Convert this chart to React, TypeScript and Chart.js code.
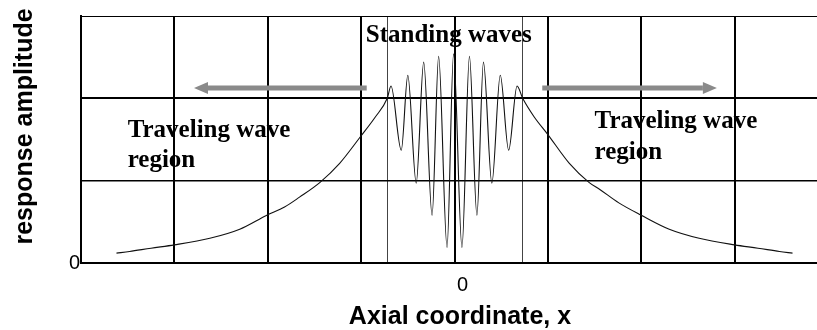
import React, { useEffect, useRef } from 'react';
import { Chart, registerables } from 'chart.js';

Chart.register(...registerables);

// ---- data (axial coordinate in grid units, response amplitude in grid units) ----
const leftX = [-3.62, -3.48, -3.25, -3.0, -2.62, -2.3, -2.01, -1.82, -1.66, -1.44, -1.23, -1.01, -0.85, -0.72];
const leftY = [0.12, 0.14, 0.18, 0.22, 0.3, 0.41, 0.58, 0.68, 0.8, 0.98, 1.21, 1.53, 1.77, 2.0];

const waveX = [-0.68, -0.57, -0.5, -0.41, -0.33, -0.24, -0.17, -0.08, -0.01, 0.08, 0.16, 0.24, 0.31, 0.4, 0.49, 0.58, 0.67];
const waveY = [2.15, 1.37, 2.28, 0.97, 2.44, 0.58, 2.51, 0.19, 2.54, 0.19, 2.51, 0.58, 2.44, 0.97, 2.28, 1.37, 2.15];

const rightX = [0.73, 0.85, 1.0, 1.23, 1.44, 1.56, 1.76, 2.0, 2.3, 2.62, 3.0, 3.25, 3.48, 3.62];
const rightY = [2.0, 1.78, 1.56, 1.21, 0.98, 0.89, 0.73, 0.58, 0.41, 0.3, 0.22, 0.18, 0.14, 0.12];

const xRange = [-4, 4];
const yRange = [0, 3];
const regionEdges = [-0.72, 0.73];
const xTickLabels = ['0'];
const yTickLabels = ['0'];

const xTitle = 'Axial coordinate, x';
const yTitle = 'response amplitude';
const standingLabel = 'Standing waves';
const travelingLabel = ['Traveling wave', 'region'];

const points = [
  ...leftX.map((x, i) => ({ x, y: leftY[i] })),
  ...waveX.map((x, i) => ({ x, y: waveY[i] })),
  ...rightX.map((x, i) => ({ x, y: rightY[i] })),
];

const annotationPlugin = {
  id: 'annotations',
  afterDraw(chart: any) {
    const { ctx, chartArea } = chart;
    const xs = chart.scales.x;
    const ys = chart.scales.y;
    const px = (v: number) => xs.getPixelForValue(v);
    const py = (v: number) => ys.getPixelForValue(v);
    ctx.save();

    // arrows
    const arrow = (from: number, to: number, yv: number) => {
      const x0 = px(from);
      const x1 = px(to);
      const yy = py(yv);
      const dir = Math.sign(x1 - x0);
      const head = 14;
      ctx.strokeStyle = '#8a8a8a';
      ctx.fillStyle = '#8a8a8a';
      ctx.lineWidth = 5;
      ctx.beginPath();
      ctx.moveTo(x0, yy);
      ctx.lineTo(x1 - dir * head, yy);
      ctx.stroke();
      ctx.beginPath();
      ctx.moveTo(x1, yy);
      ctx.lineTo(x1 - dir * head, yy - 6);
      ctx.lineTo(x1 - dir * head, yy + 6);
      ctx.closePath();
      ctx.fill();
    };
    arrow(-0.94, -2.79, 2.125);
    arrow(0.94, 2.81, 2.125);

    // region texts
    ctx.fillStyle = '#000';
    ctx.font = 'bold 25px "Liberation Serif", "Times New Roman", serif';
    ctx.textAlign = 'left';
    ctx.textBaseline = 'alphabetic';
    ctx.fillText(standingLabel, px(-0.95), py(2.684));
    ctx.fillText(travelingLabel[0], px(-3.5), py(1.53));
    ctx.fillText(travelingLabel[1], px(-3.5), py(1.166));
    ctx.fillText(travelingLabel[0], px(1.5), py(1.64));
    ctx.fillText(travelingLabel[1], px(1.5), py(1.263));

    // axis titles
    ctx.font = 'bold 25px "Liberation Sans", Arial, sans-serif';
    ctx.textAlign = 'center';
    ctx.textBaseline = 'alphabetic';
    ctx.fillText(xTitle, chartArea.left + 379, chartArea.bottom + 61);
    ctx.translate(chartArea.left - 49, chartArea.top + 110.5);
    ctx.rotate(-Math.PI / 2);
    ctx.fillText(yTitle, 0, 0);
    ctx.restore();
  },
};

export default function App() {
  const canvasRef = useRef<HTMLCanvasElement | null>(null);

  useEffect(() => {
    const canvas = canvasRef.current;
    if (!canvas) return;
    const tickFont = { family: '"Liberation Sans", Arial, sans-serif', size: 20 };
    const chart = new Chart(canvas, {
      type: 'line',
      data: {
        datasets: [
          {
            data: points,
            borderColor: '#111',
            borderWidth: 1.1,
            pointRadius: 0,
            fill: false,
            cubicInterpolationMode: 'monotone',
          },
        ],
      },
      options: {
        responsive: false,
        animation: false,
        devicePixelRatio: 1,
        layout: { padding: { left: 0, top: 16, right: 12, bottom: 0 } },
        plugins: { legend: { display: false }, tooltip: { enabled: false } },
        scales: {
          x: {
            type: 'linear',
            min: xRange[0],
            max: xRange[1],
            afterBuildTicks: (s: any) => {
              s.ticks = [...s.ticks, ...regionEdges.map((v) => ({ value: v }))].sort(
                (a: any, b: any) => a.value - b.value,
              );
            },
            afterFit: (s: any) => {
              s.height = 67;
            },
            ticks: {
              stepSize: 1,
              autoSkip: false,
              maxRotation: 0,
              padding: 10,
              labelOffset: 8,
              color: '#000',
              font: tickFont,
              callback: (v: any) => (xTickLabels.includes(String(v)) ? String(v) : ''),
            },
            grid: {
              drawTicks: false,
              color: (c: any) => (regionEdges.includes(c.tick?.value) ? '#444' : '#000'),
              lineWidth: (c: any) => (regionEdges.includes(c.tick?.value) ? 1 : 2),
            },
            border: { color: '#000', width: 2 },
          },
          y: {
            min: yRange[0],
            max: yRange[1],
            afterFit: (s: any) => {
              s.width = 81;
            },
            ticks: {
              stepSize: 1,
              padding: 1,
              color: '#000',
              font: tickFont,
              callback: (v: any) => (yTickLabels.includes(String(v)) ? String(v) : ''),
            },
            grid: {
              drawTicks: false,
              color: '#000',
              lineWidth: (c: any) => (c.tick?.value === 3 ? 1 : c.tick?.value === 1 ? 1.5 : 2),
            },
            border: { color: '#000', width: 2 },
          },
        },
      },
      plugins: [annotationPlugin],
    } as any);
    return () => chart.destroy();
  }, []);

  return (
    <div
      style={{
        position: 'fixed',
        left: 0,
        top: 0,
        width: 817,
        height: 330,
        overflow: 'hidden',
        background: '#fff',
      }}
    >
      <canvas ref={canvasRef} width={840} height={330} style={{ display: 'block' }} />
    </div>
  );
}
